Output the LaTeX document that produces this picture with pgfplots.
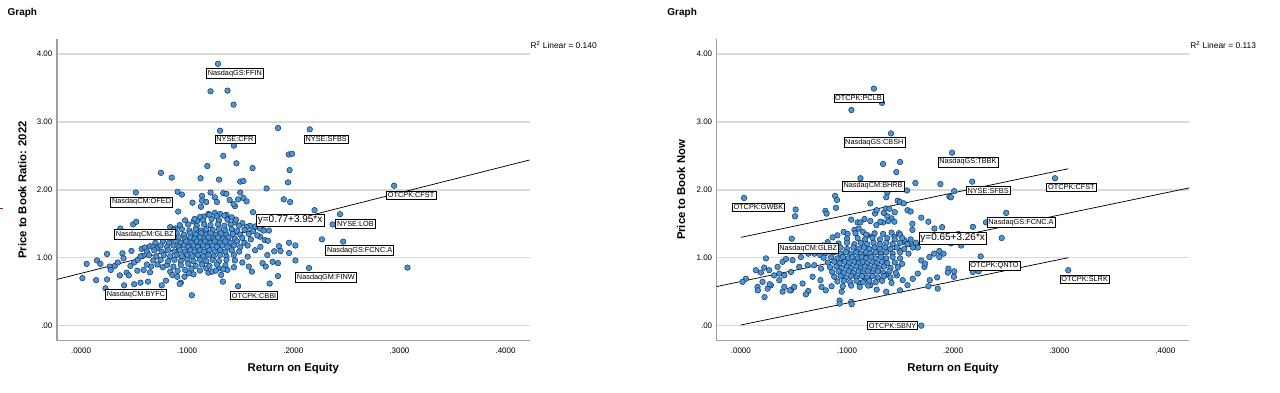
\documentclass[border=0pt]{standalone}
\usepackage{pgfplots}
\pgfplotsset{compat=1.18}
\usepackage{fontspec}
\setmainfont{Liberation Sans}
\definecolor{ptfill}{RGB}{72,150,220}
\definecolor{ptdraw}{RGB}{22,42,72}
\newcommand\tickfont{\fontsize{6}{7}\selectfont}
\newcommand\labfont{\fontsize{5.5}{6.5}\selectfont}
\newcommand\titfont{\bfseries\fontsize{8.5}{10}\selectfont}
\pgfplotsset{
  spss/.style={
    scale only axis, width=354.45pt, height=226.05pt, anchor=south west,
    xmin=-0.0226, xmax=0.4226, ymin=-0.22, ymax=4.216,
    axis x line=bottom, axis y line=left,
    axis line style={draw=gray!75, line width=0.9pt, -},
    major tick length=0pt,
    ytick={0,1,2,3,4}, yticklabels={.00,1.00,2.00,3.00,4.00},
    xtick={0,0.1,0.2,0.3,0.4}, xticklabels={.0000,.1000,.2000,.3000,.4000},
    ymajorgrids, major grid style={draw=gray!30, line width=1.1pt},
    ticklabel style={font=\tickfont},
    xticklabel style={yshift=-2pt},
    clip=false,
  },
  pts/.style={only marks, mark=*, mark size=2.1pt,
    mark options={fill=ptfill, draw=ptdraw, line width=0.35pt}},
}
\tikzset{
  lab/.style={draw=black, line width=0.4pt, fill=white, inner sep=1.1pt, font=\labfont},
  eqlab/.style={draw=black, line width=0.4pt, fill=white, inner sep=1.2pt, font=\fontsize{7.5}{8.5}\selectfont},
}
\begin{document}
\begin{tikzpicture}[x=0.75pt,y=0.75pt]
\fill[white] (0,0) rectangle (1280,393);
% ================= LEFT PANEL =================
\begin{axis}[spss, at={(42.525pt,39.225pt)}]
\addplot[pts] coordinates {
(0.129,3.854)(0.122,3.45)(0.138,3.46)(0.1437,3.255)
(0.131,2.87)(0.2155,2.89)(0.1856,2.91)(0.144,2.65)
(0.134,2.50)(0.1464,2.39)(0.119,2.35)(0.1616,2.32)
(0.1957,2.52)(0.1988,2.53)(0.1965,2.29)(0.195,2.11)
(0.0753,2.25)(0.0854,2.18)(0.1126,2.17)(0.130,2.15)(0.150,2.12)(0.153,2.13)
(0.1748,2.02)(0.295,2.06)(0.191,1.86)(0.197,1.82)
(0.0516,1.96)(0.091,1.97)(0.095,1.93)
(0.114,1.91)(0.114,1.84)(0.118,1.82)
(0.122,1.96)(0.126,1.89)(0.128,1.82)
(0.134,1.95)(0.137,1.94)(0.140,1.85)(0.145,1.76)
(0.150,1.96)(0.153,1.88)(0.156,1.83)(0.148,1.86)
(0.105,1.81)(0.113,1.75)(0.0915,1.68)(0.162,1.67)(0.1437,1.79)
(0.220,1.70)(0.244,1.64)(0.237,1.49)(0.227,1.27)(0.247,1.237)
(0.2148,0.85)(0.3076,0.854)
(0.202,1.18)(0.196,1.22)(0.202,0.96)(0.196,1.07)
(0.1855,0.73)(0.1777,0.62)(0.1855,0.92)(0.1805,0.94)(0.171,0.92)(0.174,0.87)
(0.148,0.58)(0.1044,0.447)(0.1336,0.648)(0.132,0.746)(0.120,0.78)
(0.0013,0.70)(0.0053,0.91)(0.0142,0.67)(0.015,0.96)(0.0182,0.91)(0.023,0.55)(0.0245,0.68)(0.027,0.87)(0.028,0.82)(0.0245,1.055)
(0.039,1.065)(0.040,0.99)(0.0365,0.74)(0.043,0.78)(0.045,0.74)(0.0406,0.594)(0.050,0.61)(0.056,0.633)(0.063,0.648)
(0.0318,0.88)(0.0346,0.93)(0.0465,0.88)(0.050,0.93)(0.0535,0.97)(0.058,1.026)
(0.049,1.49)(0.052,1.53)(0.037,1.43)
(0.0475,1.10)(0.057,1.13)(0.060,1.15)(0.065,1.17)
(0.053,0.81)(0.059,0.82)(0.065,0.785)(0.066,0.87)(0.062,0.90)
(0.0714,1.14)(0.076,0.594)(0.080,0.663)
(0.077,0.86)(0.081,0.89)(0.084,0.795)(0.087,0.87)(0.091,0.805)
(0.086,0.746)(0.0906,0.72)(0.094,0.633)(0.0975,0.72)(0.1016,0.77)(0.106,0.756)(0.093,0.614)
(0.084,1.45)(0.089,1.43)
(0.1686,1.31)(0.173,1.26)(0.176,1.25)(0.169,1.16)(0.164,1.11)
(0.1755,1.04)(0.182,1.095)(0.1865,1.17)(0.188,1.10)
(0.157,1.016)(0.152,0.93)(0.158,0.87)(0.161,0.795)
(0.144,0.86)(0.138,0.82)(0.130,0.845)(0.1236,0.795)(0.118,0.845)(0.112,0.81)(0.108,0.88)
(0.145,1.52)(0.152,1.51)(0.159,1.47)(0.164,1.46)(0.1686,1.43)(0.172,1.40)(0.177,1.40)
(0.1157,1.605)(0.120,1.645)(0.126,1.66)(0.131,1.645)(0.137,1.63)(0.142,1.595)
(0.106,1.535)(0.1094,1.54)
(0.112,1.60)(0.121,1.63)(0.128,1.61)(0.135,1.62)
(0.098,1.55)(0.107,1.57)(0.115,1.55)(0.123,1.57)(0.130,1.55)(0.138,1.56)(0.146,1.56)
(0.093,1.48)(0.101,1.49)(0.109,1.47)(0.116,1.49)(0.122,1.48)(0.129,1.49)(0.135,1.47)(0.141,1.49)(0.149,1.47)(0.156,1.45)
(0.087,1.41)(0.095,1.42)(0.102,1.40)(0.108,1.42)(0.113,1.40)(0.118,1.42)(0.124,1.41)(0.130,1.42)(0.136,1.40)(0.142,1.42)(0.147,1.39)(0.154,1.41)(0.162,1.39)
(0.082,1.35)(0.090,1.36)(0.097,1.34)(0.103,1.36)(0.108,1.34)(0.113,1.36)(0.118,1.34)(0.122,1.36)(0.127,1.34)(0.132,1.36)(0.137,1.34)(0.143,1.35)(0.150,1.34)(0.158,1.35)(0.166,1.33)
(0.078,1.29)(0.085,1.28)(0.092,1.30)(0.098,1.28)(0.103,1.30)(0.107,1.28)(0.112,1.30)(0.116,1.28)(0.120,1.30)(0.125,1.28)(0.129,1.30)(0.134,1.28)(0.139,1.30)(0.145,1.28)(0.152,1.29)(0.160,1.27)
(0.070,1.22)(0.077,1.24)(0.083,1.22)(0.089,1.24)(0.094,1.22)(0.099,1.24)(0.104,1.22)(0.109,1.24)(0.113,1.22)(0.117,1.24)(0.122,1.22)(0.126,1.24)(0.131,1.22)(0.136,1.24)(0.141,1.22)(0.147,1.24)(0.154,1.22)
(0.068,1.16)(0.075,1.18)(0.081,1.16)(0.087,1.18)(0.092,1.16)(0.097,1.18)(0.101,1.16)(0.106,1.18)(0.110,1.16)(0.115,1.18)(0.119,1.16)(0.124,1.18)(0.128,1.16)(0.133,1.18)(0.138,1.16)(0.144,1.18)(0.150,1.16)(0.157,1.18)
(0.062,1.09)(0.069,1.11)(0.076,1.09)(0.082,1.11)(0.088,1.09)(0.093,1.11)(0.098,1.09)(0.103,1.11)(0.107,1.09)(0.112,1.11)(0.116,1.09)(0.121,1.11)(0.126,1.09)(0.131,1.11)(0.136,1.09)(0.142,1.11)(0.149,1.09)
(0.056,1.02)(0.064,1.04)(0.071,1.02)(0.078,1.04)(0.084,1.02)(0.090,1.04)(0.095,1.02)(0.100,1.04)(0.105,1.02)(0.110,1.04)(0.115,1.02)(0.120,1.04)(0.125,1.02)(0.131,1.04)(0.137,1.02)(0.144,1.04)
(0.068,0.96)(0.075,0.97)(0.082,0.95)(0.088,0.97)(0.094,0.95)(0.100,0.97)(0.106,0.95)(0.112,0.97)(0.118,0.95)(0.124,0.97)(0.130,0.95)(0.137,0.97)(0.145,0.96)
(0.072,0.90)(0.094,0.89)(0.101,0.91)(0.114,0.90)(0.121,0.88)(0.128,0.90)(0.136,0.89)
(0.098,0.82)(0.104,0.84)(0.127,0.81)(0.134,0.83)
};
\addplot[black, line width=0.55pt] coordinates {(-0.0226,0.681)(0.4226,2.439)};
\coordinate (a1) at (axis cs:0.145,3.717);
\coordinate (a2) at (axis cs:0.145,2.745);
\coordinate (a3) at (axis cs:0.231,2.745);
\coordinate (a4) at (axis cs:0.311,1.92);
\coordinate (a5) at (axis cs:0.057,1.82);
\coordinate (a6) at (axis cs:0.197,1.552);
\coordinate (a7) at (axis cs:0.2586,1.50);
\coordinate (a8) at (axis cs:0.060,1.346);
\coordinate (a9) at (axis cs:0.2625,1.11);
\coordinate (a10) at (axis cs:0.2307,0.712);
\coordinate (a11) at (axis cs:0.0517,0.457);
\coordinate (a12) at (axis cs:0.163,0.442);
\end{axis}
\node[lab] at (a1) {NasdaqGS:FFIN};
\node[lab] at (a2) {NYSE:CFR};
\node[lab] at (a3) {NYSE:SFBS};
\node[lab] at (a4) {OTCPK:CFST};
\node[lab] at (a5) {NasdaqCM:OFED};
\node[eqlab] at (a6) {y=0.77+3.95*x};
\node[lab] at (a7) {NYSE:LOB};
\node[lab] at (a8) {NasdaqCM:GLBZ};
\node[lab] at (a9) {NasdaqGS:FCNC.A};
\node[lab] at (a10) {NasdaqGM:FINW};
\node[lab] at (a11) {NasdaqCM:BYFC};
\node[lab] at (a12) {OTCPK:CBBI};
% ================= RIGHT PANEL =================
\begin{axis}[spss, at={(537.525pt,39.225pt)}]
\addplot[pts] coordinates {
(0.1254,3.49)(0.133,3.28)(0.1042,3.175)
(0.1415,2.83)(0.199,2.546)
(0.134,2.38)(0.150,2.41)(0.1465,2.26)
(0.1127,2.17)(0.1645,2.10)(0.188,2.085)(0.218,2.12)(0.296,2.17)
(0.201,1.98)(0.1965,1.90)(0.198,1.89)
(0.003,1.88)(0.0888,1.91)(0.0906,1.85)
(0.1565,1.99)(0.138,1.96)(0.137,1.89)
(0.0796,1.69)(0.0896,1.735)(0.0516,1.71)(0.051,1.61)(0.0808,1.65)
(0.122,1.80)(0.1264,1.65)(0.128,1.70)(0.1346,1.66)(0.1368,1.725)
(0.1478,1.84)(0.150,1.82)(0.1535,1.80)(0.157,1.70)(0.160,1.68)(0.140,1.72)
(0.145,1.67)(0.142,1.58)(0.1447,1.53)(0.139,1.54)(0.134,1.52)(0.138,1.61)
(0.104,1.56)(0.110,1.52)(0.1126,1.52)(0.122,1.54)(0.1277,1.48)(0.1314,1.53)(0.1165,1.57)
(0.1616,1.50)(0.170,1.59)(0.1767,1.53)(0.1824,1.43)(0.1616,1.41)(0.1896,1.45)
(0.250,1.66)(0.231,1.52)(0.2186,1.455)(0.205,1.35)(0.198,1.21)(0.201,1.24)(0.191,1.06)(0.2075,1.18)
(0.2458,1.29)(0.226,1.02)
(0.2186,0.79)(0.224,0.80)(0.1956,0.84)(0.201,0.80)(0.1855,0.546)(0.178,0.67)(0.1767,0.58)(0.2008,0.72)(0.195,0.78)(0.185,0.71)
(0.187,1.01)(0.182,1.06)(0.187,1.10)
(0.173,0.865)(0.1667,0.767)(0.162,0.69)(0.157,0.595)(0.1525,0.67)(0.147,0.74)(0.142,0.63)(0.137,0.50)(0.150,0.52)
(0.128,0.53)(0.122,0.595)(0.117,0.68)(0.1116,0.63)
(0.104,0.35)(0.093,0.37)(0.093,0.325)(0.1044,0.315)(0.095,0.50)
(0.0855,0.58)(0.080,0.52)(0.076,0.57)(0.075,0.67)(0.0676,0.72)(0.0635,0.51)(0.0613,0.46)
(0.0582,0.62)(0.0503,0.57)(0.0472,0.52)(0.0409,0.57)(0.0393,0.50)(0.0362,0.67)(0.0314,0.74)(0.0283,0.595)(0.0252,0.545)(0.0204,0.645)(0.0157,0.57)
(0.0142,0.816)(0.022,0.855)(0.0267,0.816)(0.0047,0.69)(0.0016,0.645)(0.0189,0.78)
(0.0472,0.79)(0.0409,0.74)(0.0362,0.767)(0.0487,0.964)(0.0566,1.01)(0.0635,1.06)(0.0692,1.06)(0.0748,1.04)
(0.055,0.865)(0.0629,0.89)(0.0692,0.89)(0.0755,0.84)(0.0393,0.94)(0.0425,0.98)(0.0346,0.865)(0.0236,0.99)
(0.0223,0.42)(0.016,0.52)(0.027,0.61)(0.046,0.52)(0.048,1.28)
(0.077,1.18)(0.0818,1.23)(0.0865,1.30)(0.091,1.33)(0.0969,1.38)(0.1006,1.35)
(0.107,1.41)(0.111,1.43)(0.115,1.38)(0.119,1.33)(0.124,1.31)
(0.1525,1.23)(0.157,1.21)(0.162,1.185)(0.1667,1.15)
(0.17,0.96)(0.1736,0.914)(0.1777,1.01)
(0.1447,1.31)(0.149,1.36)(0.154,1.26)
(0.1365,0.75)
(0.170,0.0)(0.3085,0.816)
(0.108,1.36)(0.118,1.34)(0.126,1.36)(0.134,1.35)(0.142,1.37)(0.150,1.34)
(0.100,1.28)(0.110,1.29)(0.117,1.27)(0.124,1.29)(0.131,1.27)(0.138,1.29)(0.145,1.27)(0.152,1.29)(0.160,1.27)
(0.092,1.21)(0.100,1.22)(0.107,1.20)(0.113,1.22)(0.119,1.20)(0.125,1.22)(0.131,1.20)(0.137,1.22)(0.143,1.20)(0.150,1.22)(0.157,1.20)(0.165,1.22)
(0.086,1.14)(0.094,1.15)(0.100,1.13)(0.106,1.15)(0.111,1.13)(0.116,1.15)(0.121,1.13)(0.126,1.15)(0.131,1.13)(0.136,1.15)(0.141,1.13)(0.147,1.15)(0.154,1.13)(0.162,1.15)
(0.080,1.07)(0.088,1.08)(0.094,1.06)(0.099,1.08)(0.104,1.06)(0.109,1.08)(0.113,1.06)(0.118,1.08)(0.122,1.06)(0.127,1.08)(0.132,1.06)(0.137,1.08)(0.143,1.06)(0.150,1.08)(0.158,1.06)
(0.078,1.00)(0.085,1.01)(0.091,0.99)(0.096,1.01)(0.101,0.99)(0.105,1.01)(0.110,0.99)(0.114,1.01)(0.118,0.99)(0.123,1.01)(0.127,0.99)(0.132,1.01)(0.137,0.99)(0.143,1.01)(0.150,0.99)
(0.082,0.93)(0.088,0.94)(0.093,0.92)(0.098,0.94)(0.102,0.92)(0.107,0.94)(0.111,0.92)(0.115,0.94)(0.119,0.92)(0.124,0.94)(0.128,0.92)(0.133,0.94)(0.138,0.92)(0.145,0.93)(0.152,0.91)
(0.084,0.86)(0.090,0.87)(0.095,0.85)(0.100,0.87)(0.104,0.85)(0.109,0.87)(0.113,0.85)(0.117,0.87)(0.121,0.85)(0.126,0.87)(0.130,0.85)(0.135,0.87)(0.141,0.85)(0.148,0.86)
(0.086,0.79)(0.092,0.80)(0.097,0.78)(0.102,0.80)(0.106,0.78)(0.111,0.80)(0.115,0.78)(0.120,0.80)(0.124,0.78)(0.129,0.80)(0.134,0.78)(0.140,0.80)(0.146,0.78)
(0.088,0.72)(0.094,0.73)(0.099,0.71)(0.104,0.73)(0.109,0.71)(0.114,0.73)(0.119,0.71)(0.124,0.73)(0.129,0.71)(0.135,0.73)(0.141,0.71)
(0.091,0.65)(0.097,0.66)(0.103,0.64)(0.109,0.66)(0.115,0.64)(0.121,0.66)(0.127,0.64)(0.133,0.66)
(0.096,0.58)(0.104,0.59)(0.112,0.57)(0.120,0.59)
};
\addplot[black, line width=0.55pt] coordinates {(-0.0226,0.576)(0.4226,2.028)};
\addplot[black, line width=0.55pt] coordinates {(0.0,1.30)(0.3085,2.31)};
\addplot[black, line width=0.55pt] coordinates {(0.0,0.01)(0.3085,1.00)};
\coordinate (b1) at (axis cs:0.1108,3.35);
\coordinate (b2) at (axis cs:0.1258,2.70);
\coordinate (b3) at (axis cs:0.214,2.41);
\coordinate (b4) at (axis cs:0.1246,2.055);
\coordinate (b5) at (axis cs:0.233,1.99);
\coordinate (b6) at (axis cs:0.3115,2.035);
\coordinate (b7) at (axis cs:0.0165,1.74);
\coordinate (b8) at (axis cs:0.264,1.52);
\coordinate (b9) at (axis cs:0.1996,1.288);
\coordinate (b10) at (axis cs:0.0635,1.135);
\coordinate (b11) at (axis cs:0.239,0.885);
\coordinate (b12) at (axis cs:0.324,0.683);
\coordinate (b13) at (axis cs:0.143,0.0);
\end{axis}
\node[lab] at (b1) {OTCPK:PCLB};
\node[lab] at (b2) {NasdaqGS:CBSH};
\node[lab] at (b3) {NasdaqGS:TBBK};
\node[lab] at (b4) {NasdaqCM:BHRB};
\node[lab] at (b5) {NYSE:SFBS};
\node[lab] at (b6) {OTCPK:CFST};
\node[lab] at (b7) {OTCPK:GWBK};
\node[lab] at (b8) {NasdaqGS:FCNC.A};
\node[eqlab] at (b9) {y=0.65+3.26*x};
\node[lab] at (b10) {NasdaqCM:GLBZ};
\node[lab] at (b11) {OTCPK:QNTO};
\node[lab] at (b12) {OTCPK:SLRK};
\node[lab] at (b13) {OTCPK:SBNY};
% ================= TEXTS =================
\node[anchor=west, font=\bfseries\fontsize{7.5}{9}\selectfont, inner sep=0pt] at (7,379.7) {Graph};
\node[anchor=west, font=\bfseries\fontsize{7.5}{9}\selectfont, inner sep=0pt] at (667,379.7) {Graph};
\node[anchor=west, font=\fontsize{6.3}{7}\selectfont, inner sep=0pt] at (530,348) {R\textsuperscript{2} Linear = 0.140};
\node[anchor=west, font=\fontsize{6.3}{7}\selectfont, inner sep=0pt] at (1190,348) {R\textsuperscript{2} Linear = 0.113};
\node[font=\titfont, inner sep=0pt] at (293,24) {Return on Equity};
\node[font=\titfont, inner sep=0pt] at (953,24) {Return on Equity};
\node[font=\titfont, inner sep=0pt, rotate=90] at (22,203) {Price to Book Ratio: 2022};
\node[font=\titfont, inner sep=0pt, rotate=90] at (681,203) {Price to Book Now};
\draw[red!80!black, line width=0.6pt] (0,185) -- (2.5,185);
\end{tikzpicture}
\end{document}
